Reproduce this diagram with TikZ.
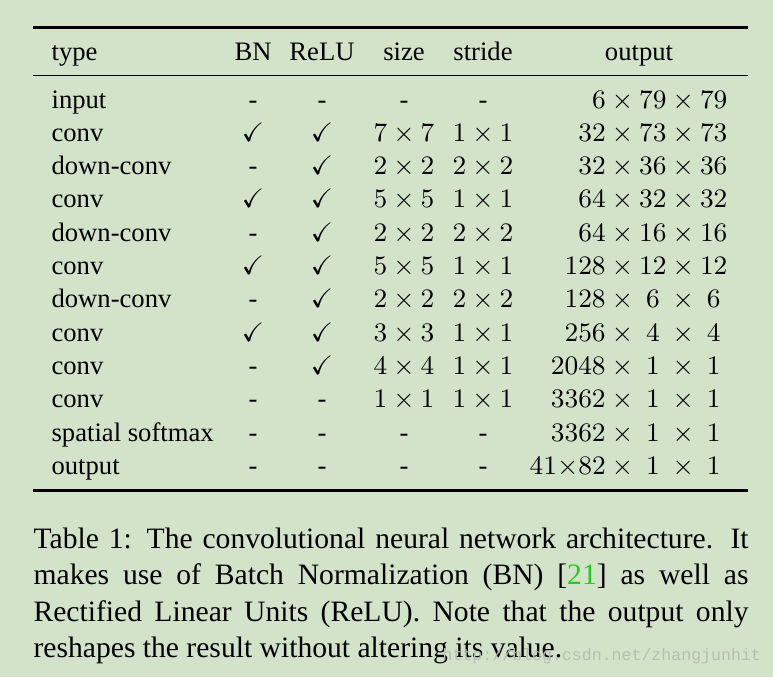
\documentclass[tikz,border=0pt]{standalone}
\usepackage{amssymb}
\usepackage{fontspec}
\setmainfont{Liberation Serif}
\newfontfamily\wmfont{Liberation Mono}
\definecolor{bg}{RGB}{211,227,201}
\definecolor{citegreen}{RGB}{30,205,30}
\definecolor{wmgray}{RGB}{180,192,178}
\newlength\slotwd
\newcommand\slot[1]{\hbox to\slotwd{\hss$#1$\hss}}
\begin{document}
\begin{tikzpicture}[x=0.3378pt,y=-0.3378pt,
  cell/.style={inner sep=0pt,anchor=base,font=\small},
  lcell/.style={cell,anchor=base west},
  rcell/.style={cell,anchor=base east},
  heavyrule/.style={line width=0.7pt},
  lightrule/.style={line width=0.42pt}]
\settowidth{\slotwd}{\small$12$}
\fill[bg] (0,0) rectangle (773,677);
\useasboundingbox (0,0) rectangle (773,677);
% rules
\coordinate (r1l) at (33,27.5);  \coordinate (r1r) at (748,27.5);
\coordinate (r2l) at (33,75.8);  \coordinate (r2r) at (748,75.8);
\coordinate (r3l) at (33,490.5); \coordinate (r3r) at (748,490.5);
\draw[heavyrule] (r1l) -- (r1r);
\draw[lightrule] (r2l) -- (r2r);
\draw[heavyrule] (r3l) -- (r3r);
% header
\node[lcell] (htype) at (51,60) {type};
\node[cell] (hbn) at (253,60) {BN};
\node[cell] (hrelu) at (322,60) {ReLU};
\node[cell] (hsize) at (404,60) {size};
\node[cell] (hstride) at (483,60) {stride};
\node[cell] (hout) at (639,60) {output};
% body
\foreach \i/\ty/\bn/\re/\sz/\st/\out in {
  1/input/-/-/-/-/{$6\times79\times79$},
  2/conv/{$\checkmark$}/{$\checkmark$}/{$7\times7$}/{$1\times1$}/{$32\times73\times73$},
  3/down-conv/-/{$\checkmark$}/{$2\times2$}/{$2\times2$}/{$32\times36\times36$},
  4/conv/{$\checkmark$}/{$\checkmark$}/{$5\times5$}/{$1\times1$}/{$64\times32\times32$},
  5/down-conv/-/{$\checkmark$}/{$2\times2$}/{$2\times2$}/{$64\times16\times16$},
  6/conv/{$\checkmark$}/{$\checkmark$}/{$5\times5$}/{$1\times1$}/{$128\times12\times12$},
  7/down-conv/-/{$\checkmark$}/{$2\times2$}/{$2\times2$}/{$128\times\slot{6}\times\slot{6}$},
  8/conv/{$\checkmark$}/{$\checkmark$}/{$3\times3$}/{$1\times1$}/{$256\times\slot{4}\times\slot{4}$},
  9/conv/-/{$\checkmark$}/{$4\times4$}/{$1\times1$}/{$2048\times\slot{1}\times\slot{1}$},
  10/conv/-/-/{$1\times1$}/{$1\times1$}/{$3362\times\slot{1}\times\slot{1}$},
  11/spatial softmax/-/-/-/-/{$3362\times\slot{1}\times\slot{1}$},
  12/output/-/-/-/-/{$41{\times}82\times\slot{1}\times\slot{1}$}} {
  \pgfmathsetmacro\yy{108+33.3*(\i-1)}
  \node[lcell] (type\i) at (51,\yy) {\ty};
  \node[cell] (bn\i) at (253,\yy) {\bn};
  \node[cell] (relu\i) at (322,\yy) {\re};
  \node[cell] (size\i) at (404,\yy) {\sz};
  \node[cell] (stride\i) at (483,\yy) {\st};
  \node[rcell] (out\i) at (728,\yy) {\out};
}
% caption
\node[anchor=north west, inner sep=0pt, text width=241.5pt, align=justify,
      font=\fontsize{10}{12.33}\selectfont] (cap) at (33,527)
  {Table 1: The convolutional neural network architecture. It\linebreak
   makes use of Batch Normalization (BN) [\textcolor{citegreen}{21}] as well as\linebreak
   Rectified Linear Units (ReLU). Note that the output only\linebreak
   reshapes the result without altering its value.};
% watermark
\node[anchor=base west, inner sep=0pt, text=wmgray,
      font=\wmfont\fontsize{5.6}{7}\selectfont] (wm) at (442,660)
  {http://blog.csdn.net/zhangjunhit};
\end{tikzpicture}
\end{document}
